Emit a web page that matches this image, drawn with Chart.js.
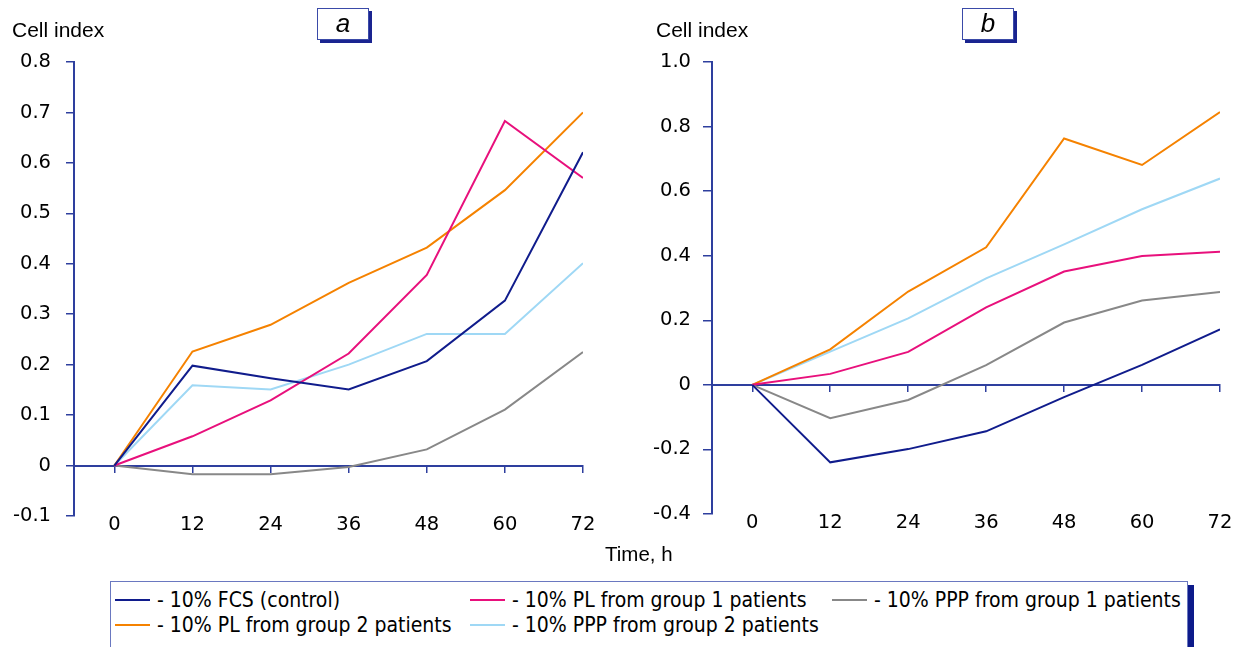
<!DOCTYPE html>
<html>
<head>
<meta charset="utf-8">
<script src="https://cdn.jsdelivr.net/npm/chart.js@4.4.1/dist/chart.umd.min.js"></script>
<style>
  html,body{margin:0;padding:0;background:#fff;width:1242px;height:647px;overflow:hidden;position:relative;}
  .cv{position:absolute;top:0;}
  .lbl{position:absolute;font-family:"Liberation Sans",Arial,sans-serif;font-size:21px;color:#000;white-space:nowrap;}
  .panel{position:absolute;top:8px;width:50px;height:30px;border:1px solid #3a4aa8;background:#fff;box-shadow:3px 3px 0 #1a2490;
         font-family:"Liberation Sans",Arial,sans-serif;font-style:italic;font-size:26px;line-height:29px;text-align:center;color:#000;}
  #legend{position:absolute;left:110px;top:581px;width:1076px;height:80px;border:1px solid #6a78c0;background:#fff;box-shadow:6px 4px 0 0 #0d1a8a;
          font-family:"Liberation Sans Narrow","DejaVu Sans Condensed","Liberation Sans",sans-serif;font-stretch:condensed;font-size:21px;color:#000;}
  .item{position:absolute;display:flex;align-items:center;white-space:nowrap;}
  .sw{width:35px;height:2px;margin-right:7px;}
</style>
</head>
<body>
<canvas id="ca" class="cv" style="left:0px" width="620" height="560"></canvas>
<canvas id="cb" class="cv" style="left:636px" width="606" height="560"></canvas>
<div class="lbl" style="left:12px;top:18px;">Cell index</div>
<div class="lbl" style="left:656px;top:18px;">Cell index</div>
<div class="lbl" style="left:605px;top:542px;font-size:20.5px;">Time, h</div>
<div class="panel" style="left:317px;">a</div>
<div class="panel" style="left:962px;">b</div>
<div id="legend"></div>
<script>
// ---- data ----
const hours = [0, 12, 24, 36, 48, 60, 72];
const seriesNames = ["- 10% FCS (control)", "- 10% PL from group 1 patients", "- 10% PPP from group 1 patients",
                     "- 10% PL from group 2 patients", "- 10% PPP from group 2 patients"];
const seriesColors = ["#101c8c", "#e8107c", "#888888", "#f58200", "#9fd8f5"];

// panel a
const fcsA  = [0, 0.198, 0.173, 0.151, 0.207, 0.327, 0.621];
const pl1A  = [0, 0.058, 0.129, 0.222, 0.378, 0.683, 0.570];
const ppp1A = [0, -0.017, -0.017, -0.003, 0.032, 0.111, 0.225];
const pl2A  = [0, 0.226, 0.279, 0.362, 0.432, 0.546, 0.700];
const ppp2A = [0, 0.159, 0.151, 0.200, 0.261, 0.261, 0.401];
// panel b
const fcsB  = [0, -0.240, -0.199, -0.144, -0.038, 0.062, 0.172];
const pl1B  = [0, 0.034, 0.102, 0.240, 0.351, 0.399, 0.412];
const ppp1B = [0, -0.103, -0.047, 0.061, 0.193, 0.261, 0.288];
const pl2B  = [0, 0.110, 0.289, 0.426, 0.763, 0.681, 0.845];
const ppp2B = [0, 0.103, 0.206, 0.330, 0.435, 0.544, 0.639];

const yTicksA = [-0.1, 0, 0.1, 0.2, 0.3, 0.4, 0.5, 0.6, 0.7, 0.8];
const yTicksB = [-0.4, -0.2, 0, 0.2, 0.4, 0.6, 0.8, 1.0];
const xTicks = hours;

// ---- chart construction ----
const axisColor = "#2e3f9e";
const tickFont = {family: "'DejaVu Sans', Verdana, sans-serif", size: 19.5};

function fmt(v){ return Math.abs(v) < 1e-9 ? "0" : v.toFixed(1); }

function makeChart(id, seriesList, yTicks, yAxisWidth, xAxisHeight, rightPad, yTickLen, yPad){
  const datasets = seriesList.map((vals, i) => ({
    label: seriesNames[i],
    data: hours.map((h, j) => ({x: h, y: vals[j]})),
    borderColor: seriesColors[i],
    backgroundColor: seriesColors[i],
    borderWidth: 2,
    pointRadius: 0,
    tension: 0,
    fill: false
  }));
  return new Chart(document.getElementById(id), {
    type: "line",
    data: {datasets},
    options: {
      responsive: false,
      animation: false,
      events: [],
      layout: {padding: {top: 62, right: rightPad, left: 0, bottom: 0}},
      plugins: {legend: {display: false}, tooltip: {enabled: false}},
      scales: {
        x: {
          type: "linear", position: "bottom",
          min: -6.2, max: 72,
          afterBuildTicks: s => { s.ticks = xTicks.map(v => ({value: v})); },
          afterFit: s => { s.height = xAxisHeight; },
          grid: {display: false, drawTicks: false},
          border: {display: false},
          ticks: {color: "#000", font: tickFont, padding: -3, maxRotation: 0, autoSkip: false}
        },
        xz: {
          type: "linear", position: {y: 0}, axis: "x",
          min: -6.2, max: 72,
          afterBuildTicks: s => { s.ticks = xTicks.map(v => ({value: v})); },
          grid: {drawOnChartArea: false, drawTicks: true, tickLength: 6, color: axisColor, lineWidth: 1.5},
          border: {display: true, color: axisColor, width: 2},
          ticks: {display: false}
        },
        y: {
          type: "linear", position: "left",
          min: yTicks[0], max: yTicks[yTicks.length - 1],
          afterBuildTicks: s => { s.ticks = yTicks.map(v => ({value: v})); },
          afterFit: s => { s.width = yAxisWidth; },
          grid: {drawOnChartArea: false, drawTicks: true, tickLength: yTickLen, color: axisColor, lineWidth: 1.5},
          border: {display: true, color: axisColor, width: 2},
          ticks: {color: "#000", font: tickFont, padding: yPad, callback: v => fmt(v), autoSkip: false}
        }
      }
    }
  });
}

makeChart("ca", [fcsA, pl1A, ppp1A, pl2A, ppp2A], yTicksA, 74, 44, 37, 8, 15);
makeChart("cb", [fcsB, pl1B, ppp1B, pl2B, ppp2B], yTicksB, 76, 46, 22, 9, 12);

// ---- legend (HTML) ----
const legendPos = [[4, 19], [359, 19], [721, 19], [4, 44], [359, 44]];
const leg = document.getElementById("legend");
seriesNames.forEach((name, i) => {
  const it = document.createElement("div");
  it.className = "item";
  it.style.left = legendPos[i][0] + "px";
  it.style.top = (legendPos[i][1] - 13) + "px";
  const sw = document.createElement("div");
  sw.className = "sw";
  sw.style.background = seriesColors[i];
  const tx = document.createElement("span");
  tx.textContent = name;
  it.appendChild(sw); it.appendChild(tx);
  leg.appendChild(it);
});
</script>
</body>
</html>
